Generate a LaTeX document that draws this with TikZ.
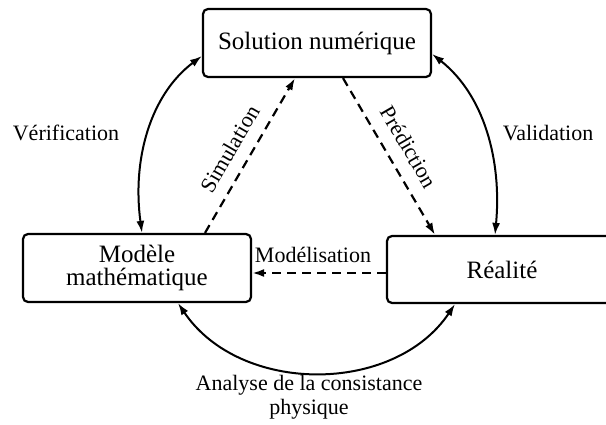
\documentclass[tikz,border=0pt]{standalone}
\usepackage{fontspec}
\setmainfont{Liberation Serif}
\usetikzlibrary{arrows.meta,calc}
\begin{document}
\begin{tikzpicture}[x=1pt,y=-1pt,
  box/.style={draw,line width=2.2pt,rounded corners=5pt,align=center,
    font=\fontsize{25}{23.5}\selectfont,inner sep=0pt},
  lbl/.style={font=\fontsize{22}{24}\selectfont,align=center,inner sep=0pt},
  solid arrow/.style={line width=2pt,{Latex[length=12pt,width=8pt]}-{Latex[length=12pt,width=8pt]}},
  dash arrow/.style={line width=2.2pt,dash pattern=on 9pt off 6pt,-{Latex[length=12pt,width=8pt]}}]
\useasboundingbox (0,0) rectangle (606,425);
\node[box,minimum width=228pt,minimum height=68pt] (sol) at (317,43) {Solution numérique};
\node[box,minimum width=228pt,minimum height=68pt] (mod) at (137,268) {Modèle\\mathématique};
\node[box,minimum width=230pt,minimum height=67pt] (rea) at (502,269.5) {Réalité};
% Verification
\draw[solid arrow] ([xshift=5pt]mod.north) .. controls (132,160) and (150,95) .. ([yshift=-13pt]sol.west);
\node[lbl] (lver) at (66,133) {Vérification};
% Validation
\draw[solid arrow] ([xshift=-7pt]rea.north) .. controls (502,160) and (484,95) .. ([yshift=-11pt]sol.east);
\node[lbl] (lval) at (548,133) {Validation};
% Analyse
\draw[solid arrow] ([xshift=41pt]mod.south) .. controls (240,395) and (394,395) .. ([xshift=-47pt]rea.south);
\node[lbl] (lana) at (309,397) {Analyse de la consistance\\physique};
% Simulation
\draw[dash arrow] ([xshift=68pt]mod.north) -- ([xshift=-22pt]sol.south);
\node[lbl,rotate=60] (lsim) at (230,149) {Simulation};
% Prediction
\draw[dash arrow] ([xshift=26pt]sol.south) -- ([xshift=-67pt]rea.north);
\node[lbl,rotate=-60] (lpre) at (409,147) {Prédiction};
% Modelisation
\draw[dash arrow] ([yshift=-3.5pt]rea.west) -- ([yshift=-5pt]mod.east);
\node[lbl] (lmod) at (313,255) {Modélisation};
\end{tikzpicture}
\end{document}
